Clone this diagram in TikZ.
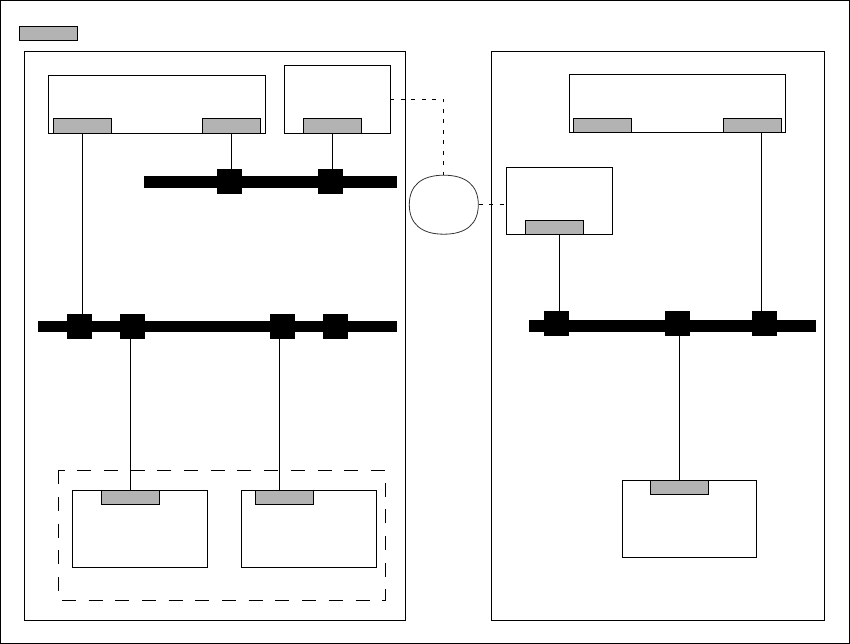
\documentclass[tikz,border=0pt]{standalone}
\usetikzlibrary{shapes.geometric}
\definecolor{portgray}{RGB}{179,179,179}
\begin{document}
\begin{tikzpicture}[x=1pt,y=-1pt,
  frame/.style={draw, line width=1pt, inner sep=0pt, outer sep=0pt},
  region/.style={frame, fill=none},
  devbox/.style={frame, fill=white},
  port/.style={frame, fill=portgray, minimum width=58pt, minimum height=14.5pt},
  bus/.style={fill=black, inner sep=0pt, outer sep=0pt, minimum height=11.6pt},
  tap/.style={fill=black, inner sep=0pt, outer sep=0pt, minimum width=25pt, minimum height=25pt},
  wire/.style={line width=0.9pt},
  link/.style={line width=0.9pt, dash pattern=on 4pt off 6.5pt},
  groupbox/.style={draw, line width=1pt, dash pattern=on 14pt off 12.7pt}]
\useasboundingbox (0,0) rectangle (850,644);
\draw[line width=1pt] (0.5,0.5) rectangle (849.5,643.5);

% legend
\node[port, minimum height=14pt] (legend) at (48,34) {};

% regions
\node[region, minimum width=381pt, minimum height=568.7pt] (leftreg) at (214.8,335.7) {};
\node[region, minimum width=332.8pt, minimum height=568.7pt] (rightreg) at (657.9,335.7) {};

% left top devices
\node[devbox, minimum width=217.4pt, minimum height=58pt] (boxA) at (157,104.3) {};
\node[port] (portA1) at (82.4,125.9) {};
\node[port] (portA2) at (231.6,125.9) {};
\node[devbox, minimum width=105.8pt, minimum height=68pt] (boxB) at (337.4,99.3) {};
\node[port] (portB) at (332.3,125.9) {};

% buses left
\node[bus, minimum width=253pt] (bus1) at (270.5,181.9) {};
\node[tap] (tapT1) at (229.3,181.5) {};
\node[tap] (tapT2) at (330.5,181.5) {};
\node[bus, minimum width=359pt] (bus2) at (217.5,326.3) {};
\node[tap] (tapL1) at (79.2,326.5) {};
\node[tap] (tapL2) at (132.5,326.5) {};
\node[tap] (tapL3) at (282.7,326.5) {};
\node[tap] (tapL4) at (335.3,326.5) {};

% cloud / rounded oval
\node[ellipse, inner sep=0pt, minimum width=69pt, minimum height=59pt] (net) at (443.8,204.7) {};
\draw[black!80, line width=0.8pt]
  (478.3,204.7) .. controls (478.3,185.5) and (466.2,175.2) .. (443.8,175.2)
                .. controls (421.4,175.2) and (409.3,185.5) .. (409.3,204.7)
                .. controls (409.3,223.9) and (421.4,234.2) .. (443.8,234.2)
                .. controls (466.2,234.2) and (478.3,223.9) .. (478.3,204.7) -- cycle;

% right devices
\node[devbox, minimum width=216pt, minimum height=58pt] (boxD) at (677.3,104) {};
\node[port] (portD1) at (602.3,125.7) {};
\node[port] (portD2) at (752,125.7) {};
\node[devbox, minimum width=106.4pt, minimum height=67pt] (boxC) at (559.5,200.8) {};
\node[port, minimum height=14pt] (portC) at (554.7,227.3) {};
\node[bus, minimum width=286.7pt] (bus3) at (672.3,325.9) {};
\node[tap] (tapR1) at (556.8,323.4) {};
\node[tap] (tapR2) at (677.5,323.4) {};
\node[tap] (tapR3) at (764.5,323.4) {};

% bottom group
\draw[groupbox] (58.3,470.3) rectangle (385.3,600.3);
\node[devbox, minimum width=135pt, minimum height=77pt] (boxE) at (139.8,528.8) {};
\node[port, minimum height=14pt] (portE) at (130.3,497.3) {};
\node[devbox, minimum width=135.4pt, minimum height=77pt] (boxF) at (309,528.8) {};
\node[port, minimum height=14pt] (portF) at (284.3,497.3) {};
\node[devbox, minimum width=134pt, minimum height=77pt] (boxG) at (689.3,518.8) {};
\node[port, minimum height=14pt] (portG) at (679.3,487.3) {};

% wires
\coordinate (wA1) at (82.3,133.3);
\draw[wire] (wA1) -- (wA1 |- tapL1.north);
\coordinate (wA2) at (231.3,133.3);
\draw[wire] (wA2) -- (wA2 |- tapT1.north);
\draw[wire] (portB.south) -- (portB.south |- tapT2.north);
\coordinate (wE) at (130,339);
\draw[wire] (wE) -- (wE |- portE.north);
\coordinate (wF) at (279.3,339);
\draw[wire] (wF) -- (wF |- portF.north);
\coordinate (wC) at (559.3,234.3);
\draw[wire] (wC) -- (wC |- tapR1.north);
\coordinate (wG) at (679.7,335.9);
\draw[wire] (wG) -- (wG |- portG.north);
\coordinate (wD) at (761.5,133);
\draw[wire] (wD) -- (wD |- tapR3.north);

% dashed links
\coordinate (bend) at (443.8,99.3);
\draw[link] (boxB.east |- bend) -- (bend) -- (net.north);
\draw[link] (net.east) -- (boxC.west |- net.east);
\end{tikzpicture}
\end{document}
